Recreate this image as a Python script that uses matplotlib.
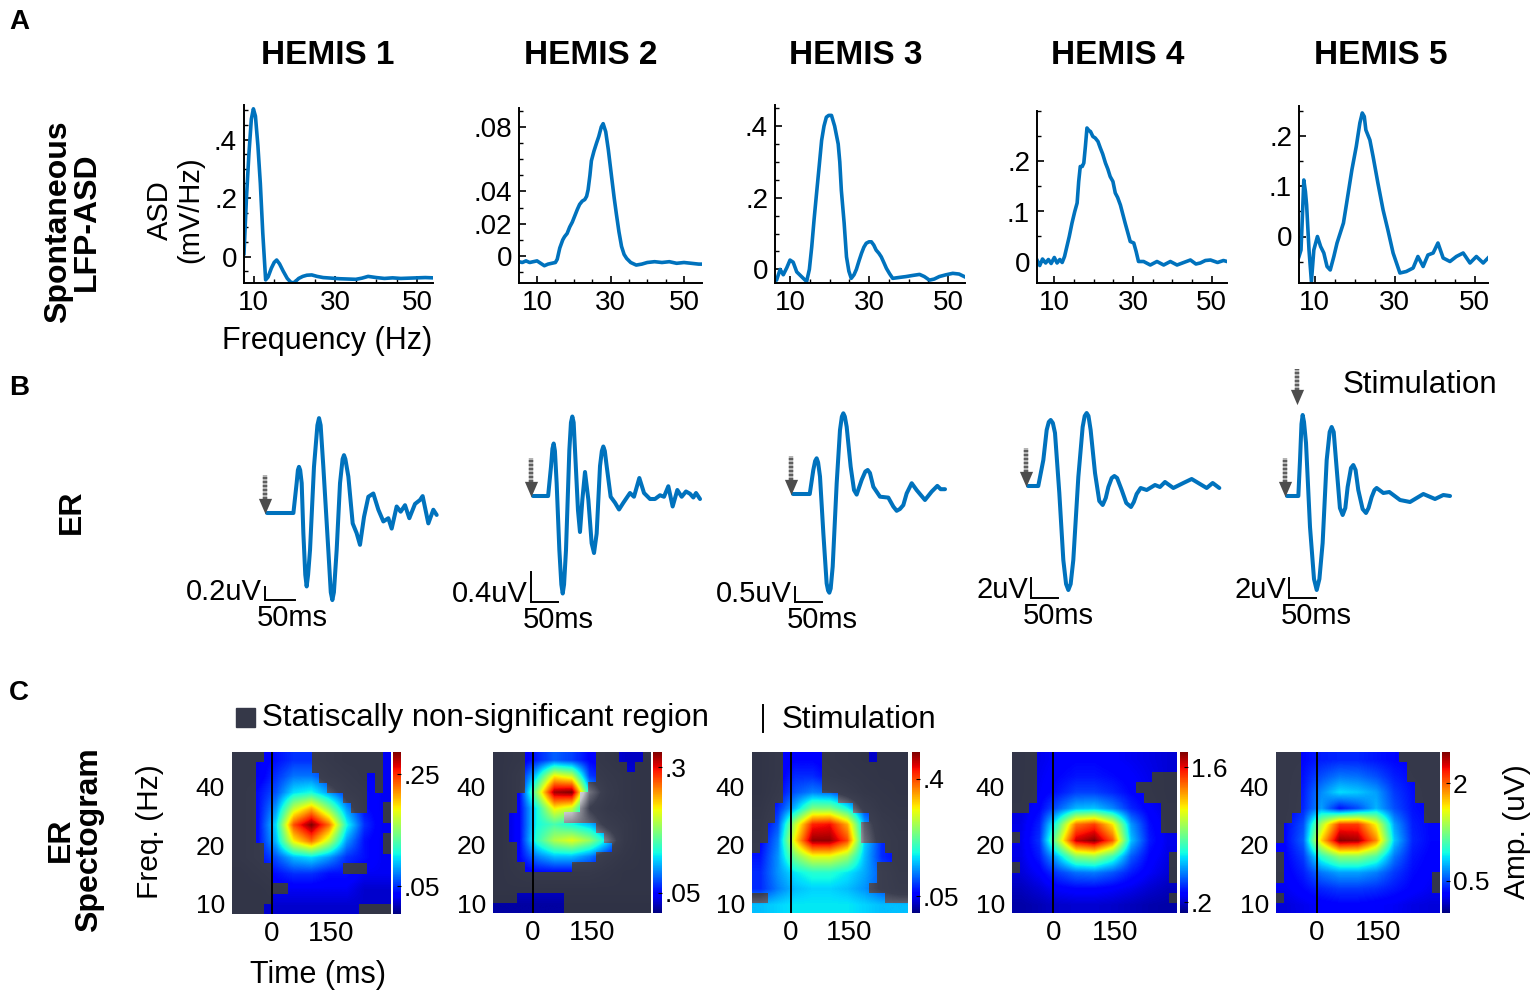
import matplotlib
matplotlib.use('Agg')
import matplotlib.pyplot as plt
from matplotlib.colors import LinearSegmentedColormap, Normalize
from matplotlib.path import Path
from matplotlib.patches import Rectangle
from matplotlib.lines import Line2D
from matplotlib.ticker import MultipleLocator
from matplotlib.cm import ScalarMappable
import numpy as np

plt.rcParams['font.family'] = ['Liberation Sans', 'DejaVu Sans']
NARROW = ['Liberation Sans Narrow', 'Liberation Sans', 'DejaVu Sans']

W, H = 1536, 999
BLUE = '#0072BD'

hemis = ['HEMIS 1', 'HEMIS 2', 'HEMIS 3', 'HEMIS 4', 'HEMIS 5']

# ---------------- A : spontaneous LFP amplitude spectral density ----------------
asd_f1 = [7.6, 8.2, 8.8, 9.4, 9.9, 10.4, 11.0, 11.6, 12.2, 12.9, 13.5, 14.3, 15.0, 15.6, 16.3, 17.2,
          18.2, 19.2, 20.0, 21.0, 22, 23, 24.2, 25.5, 27, 29, 31, 33, 35, 36.5, 38, 40, 42, 44, 46, 48,
          50, 52, 53.9]
asd_v1 = [0.01, 0.2, 0.35, 0.47, 0.505, 0.48, 0.38, 0.25, 0.08, -0.08, -0.07, -0.04, -0.02, -0.012,
          -0.025, -0.05, -0.075, -0.09, -0.088, -0.075, -0.068, -0.064, -0.063, -0.068, -0.072, -0.074,
          -0.076, -0.077, -0.078, -0.074, -0.068, -0.072, -0.075, -0.073, -0.075, -0.074, -0.073,
          -0.072, -0.073]
asd_f2 = [5.1, 6, 7, 8, 9, 10, 11, 12, 13, 14, 15, 15.5, 16.2, 17, 17.5, 18.2, 18.9, 19.6, 20.3, 21,
          21.6, 22.3, 23, 23.5, 23.9, 24.4, 24.8, 25.5, 26.2, 26.8, 27.5, 28, 28.7, 29.4, 30.3, 31,
          31.6, 32.3, 33, 33.7, 34.4, 35.5, 37, 38.5, 40, 42, 44, 46, 48, 50, 52, 54, 54.9]
asd_v2 = [-0.0035, -0.004, -0.003, -0.004, -0.0035, -0.003, -0.0045, -0.006, -0.005, -0.0045,
          -0.004, -0.002, 0.005, 0.010, 0.012, 0.014, 0.018, 0.021, 0.025, 0.029, 0.032, 0.034,
          0.035, 0.037, 0.041, 0.050, 0.059, 0.065, 0.070, 0.074, 0.080, 0.082, 0.077, 0.066, 0.049,
          0.036, 0.026, 0.015, 0.006, 0.001, -0.0015, -0.004, -0.0056, -0.005, -0.004, -0.0035,
          -0.004, -0.0035, -0.0045, -0.004, -0.0045, -0.005, -0.005]
asd_f3 = [6.2, 6.6, 7.5, 8.3, 9.2, 10, 10.8, 11.7, 12.9, 14.2, 14.9, 15.5, 16.1, 16.7, 17.4, 18,
          18.6, 19.2, 19.8, 20.5, 21.3, 22.2, 22.6, 23, 23.7, 24.3, 24.9, 25.5, 26.2, 26.8, 27.5,
          28.1, 28.7, 29.3, 30, 30.6, 31.2, 31.8, 32.5, 33.1, 33.8, 34.4, 35.2, 36, 38, 39.4, 41,
          42.8, 44, 45.3, 46.5, 47.8, 49.5, 51.2, 52.8, 54.1]
asd_v3 = [-0.03, -0.03, 0.0, -0.015, 0.005, 0.026, 0.02, -0.007, -0.02, -0.034, 0.0, 0.063, 0.14,
          0.21, 0.29, 0.36, 0.40, 0.425, 0.43, 0.43, 0.40, 0.35, 0.30, 0.22, 0.13, 0.035, -0.005,
          -0.025, -0.015, 0.0, 0.025, 0.045, 0.062, 0.073, 0.077, 0.077, 0.068, 0.054, 0.045, 0.035,
          0.018, 0.003, -0.012, -0.025, -0.022, -0.02, -0.017, -0.014, -0.02, -0.03, -0.027, -0.02,
          -0.015, -0.011, -0.013, -0.02]
asd_f4 = [5.6, 6.3, 7, 7.8, 8.5, 9.2, 10, 10.7, 11.4, 12, 12.6, 13.2, 13.8, 14.5, 15.2, 15.8, 16.2,
          16.6, 17.1, 17.5, 17.9, 18.3, 18.8, 19.2, 19.8, 20.4, 21.1, 21.7, 22.3, 23, 23.6, 24.2,
          24.9, 25.5, 26.1, 26.8, 27.4, 28, 28.6, 29.3, 30.2, 30.8, 31.4, 32.7, 34.4, 36.1, 37.8,
          39.5, 41.2, 42.9, 44.6, 46, 47.1, 48.4, 49.7, 51.5, 53, 53.9]
asd_v4 = [0.003, -0.008, 0.005, -0.003, 0.004, -0.004, 0.008, -0.003, 0.004, -0.002, 0.01, 0.03,
          0.05, 0.077, 0.10, 0.117, 0.16, 0.19, 0.19, 0.197, 0.23, 0.267, 0.262, 0.26, 0.25, 0.247,
          0.24, 0.227, 0.215, 0.197, 0.185, 0.17, 0.16, 0.137, 0.128, 0.113, 0.095, 0.077, 0.06,
          0.04, 0.037, 0.02, 0.0, 0.0, -0.007, 0.0, -0.007, 0.0, -0.007, -0.002, 0.003, -0.005,
          -0.003, 0.002, 0.003, -0.002, 0.002, 0.0]
asd_f5 = [6.1, 6.6, 7.0, 7.3, 7.7, 8.0, 8.6, 9.2, 9.8, 10.7, 11.5, 12.3, 13.1, 13.9, 14.8, 15.6,
          16.4, 17.2, 18.0, 19.3, 20.4, 21.3, 21.9, 22.4, 22.8, 23.8, 24.6, 25.8, 27.1, 28.3, 29.6,
          31.3, 32.9, 34.6, 35.8, 37.1, 38.3, 39.6, 40.8, 42.1, 43.8, 45.4, 47.1, 48.8, 50.4, 52.1,
          53.3]
asd_v5 = [-0.04, -0.027, 0.05, 0.113, 0.09, 0.063, -0.027, -0.09, -0.027, 0.0, -0.02, -0.033,
          -0.06, -0.067, -0.04, -0.013, 0.007, 0.027, 0.067, 0.133, 0.18, 0.227, 0.247, 0.24, 0.213,
          0.193, 0.16, 0.107, 0.053, 0.013, -0.033, -0.073, -0.07, -0.063, -0.04, -0.06, -0.037,
          -0.033, -0.013, -0.043, -0.05, -0.04, -0.033, -0.053, -0.04, -0.053, -0.043]
asd_freq = [asd_f1, asd_f2, asd_f3, asd_f4, asd_f5]
asd_vals = [asd_v1, asd_v2, asd_v3, asd_v4, asd_v5]
asd_yticks = [[0, 0.2, 0.4], [0, 0.02, 0.04, 0.08], [0, 0.2, 0.4], [0, 0.1, 0.2], [0, 0.1, 0.2]]
asd_ylabels = [['0', '.2', '.4'], ['0', '.02', '.04', '.08'], ['0', '.2', '.4'],
               ['0', '.1', '.2'], ['0', '.1', '.2']]

# ---------------- B : evoked responses (ms, uV) ----------------
er_t1 = [0, 44, 49.4, 51.5, 53.3, 55.3, 57.8, 60.6, 63.8, 66.1, 68.5, 71.7, 78.3, 84, 86.7, 89.4,
         93.9, 102.2, 106.3, 108.9, 111.5, 116.1, 121.7, 126, 128.3, 130.6, 135.6, 142.8, 149.4,
         155, 161.7, 168.9, 177.2, 185.6, 193.9, 202.2, 207.8, 216.1, 222.8, 230, 237.2, 246.7,
         255, 259.4, 268.9, 277.2, 282.8]
er_v1 = [0, 0, 0.46, 0.66, 0.71, 0.66, 0.46, -0.31, -0.95, -1.13, -0.95, -0.57, 0.71, 1.35, 1.46,
         1.35, 0.71, -0.57, -1.22, -1.34, -1.22, -0.57, 0.46, 0.83, 0.89, 0.83, 0.56, -0.16, -0.31,
         -0.49, -0.06, 0.25, 0.3, 0.05, -0.13, -0.08, -0.24, 0.1, 0.02, 0.12, -0.08, 0.14, 0.2,
         0.26, -0.16, 0.05, -0.03]
er_t2 = [0, 28, 33.3, 36, 38.3, 40.6, 43.8, 48.8, 52.5, 55, 57.5, 61.1, 67.3, 70.3, 72.8, 75.3,
         77.8, 83.3, 87, 91.4, 96.3, 102.5, 108.6, 113, 117.9, 124.1, 127.5, 130.2, 133, 136.4,
         143.8, 151.9, 159.3, 167.3, 179.6, 187, 196.9, 205.6, 216.7, 225.9, 235.2, 242.6, 250.6,
         258.6, 267.3, 275.3, 283.3, 290.7, 296.9, 301.9, 309.3]
er_v2 = [0, 0, 0.39, 0.63, 0.70, 0.60, 0.17, -0.72, -1.18, -1.30, -1.18, -0.72, 0.61, 0.98, 1.06,
         0.98, 0.61, -0.19, -0.48, -0.05, 0.32, -0.05, -0.63, -0.76, -0.5, 0.4, 0.6, 0.66, 0.6,
         0.4, -0.01, -0.09, -0.18, -0.09, 0.04, -0.01, 0.24, 0.04, -0.04, -0.04, 0.01, -0.01, 0.13,
         -0.14, 0.08, -0.01, 0.06, 0.03, -0.02, 0.04, -0.04]
er_t3 = [0, 31, 37.6, 41, 43.8, 46.5, 50, 56.2, 62.3, 65, 67.3, 69.8, 73.5, 80.9, 87, 90.5, 93.2,
         96, 99.4, 106.8, 113, 117.9, 127.2, 134, 138.3, 142.5, 148.8, 161.1, 176.5, 185.8, 192,
         198, 204.3, 210.5, 219.8, 229, 244.4, 256.8, 267.3, 273.5, 281.5]
er_v3 = [0, 0, 0.8, 1.1, 1.19, 1.05, 0.58, -1.31, -2.98, -3.22, -3.29, -3.15, -2.42, 0.36, 2.13,
         2.58, 2.69, 2.58, 2.24, 0.91, 0.13, -0.02, 0.47, 0.75, 0.8, 0.7, 0.24, -0.09, -0.12, -0.42,
         -0.56, -0.5, -0.37, 0.02, 0.36, 0.13, -0.2, 0.08, 0.27, 0.16, 0.16]
er_t4 = [0, 19, 28.4, 34.6, 38.5, 42, 46, 50, 58, 65.4, 70.5, 74.7, 79, 83.9, 93.2, 101.2, 105,
         108.6, 112, 116, 124.1, 132, 138.3, 144, 148.8, 155, 159.9, 165, 173.5, 182, 190.7, 196,
         201.2, 208.6, 219.8, 235.2, 244.4, 253.7, 269.1, 287.7, 303.1, 318.5, 330.9, 342, 354.3]
er_v4 = [0, 0, 2.6, 5.6, 6.4, 6.6, 6.3, 5.3, -0.7, -7.4, -9.8, -10.4, -9.8, -7.4, 0.9, 5.9, 7.0,
         7.3, 7.0, 5.6, 1.3, -1.5, -1.9, -1.2, -0.1, 0.8, 1.0, 0.8, -0.4, -1.7, -2.1, -1.6, -0.8,
         -0.2, -0.4, 0.1, -0.1, 0.4, -0.2, 0.3, 0.7, 0.2, -0.2, 0.3, -0.2]
er_t5 = [0, 21, 24.1, 26.8, 29, 31.5, 35.2, 42.6, 50, 55, 60, 66, 73.5, 79, 82.7, 86.5, 90.7, 98,
         103.1, 108, 112.3, 118.5, 122.8, 127, 132, 140, 146.3, 151, 156.8, 162, 166, 171, 178.4,
         189.5, 209.3, 227.8, 252.5, 274.1, 289.5, 301.9]
er_v5 = [0, 0, 3.6, 7.2, 8.1, 7.4, 5.3, -3.1, -8.3, -9.4, -8.3, -4.7, 3.6, 6.4, 6.9, 6.4, 3.6, -1.2,
         -1.9, -1.2, 0.9, 2.8, 3.1, 2.6, 0.6, -1.3, -1.7, -1.2, -0.1, 0.6, 0.8, 0.6, 0.3, 0.4, -0.4,
         -0.6, 0.2, -0.3, 0.1, 0.0]
er_time = [er_t1, er_t2, er_t3, er_t4, er_t5]
er_amp = [er_v1, er_v2, er_v3, er_v4, er_v5]
er_bar_uv = [0.2, 0.4, 0.5, 2, 2]
er_bar_ms = 50

# ---------------- C : ER spectrograms (rows: high -> low freq, cols: -100 -> 300 ms) ----------------
spec1 = [[0.03, 0.03, 0.04, 0.05, 0.05, 0.04, 0.03, 0.03, 0.03],
         [0.03, 0.03, 0.05, 0.07, 0.07, 0.05, 0.04, 0.03, 0.03],
         [0.03, 0.04, 0.06, 0.10, 0.11, 0.08, 0.05, 0.04, 0.03],
         [0.03, 0.04, 0.08, 0.17, 0.21, 0.15, 0.08, 0.04, 0.03],
         [0.03, 0.04, 0.10, 0.24, 0.29, 0.23, 0.11, 0.05, 0.03],
         [0.03, 0.04, 0.09, 0.19, 0.23, 0.17, 0.08, 0.04, 0.03],
         [0.03, 0.04, 0.06, 0.09, 0.10, 0.08, 0.05, 0.04, 0.03],
         [0.02, 0.03, 0.04, 0.05, 0.05, 0.04, 0.04, 0.03, 0.03],
         [0.02, 0.02, 0.03, 0.03, 0.03, 0.03, 0.03, 0.02, 0.02],
         [0.02, 0.02, 0.02, 0.02, 0.02, 0.02, 0.02, 0.02, 0.02]]
spec2 = [[0.03, 0.04, 0.06, 0.08, 0.07, 0.05, 0.04, 0.03, 0.03],
         [0.03, 0.05, 0.12, 0.22, 0.20, 0.07, 0.05, 0.04, 0.03],
         [0.03, 0.05, 0.18, 0.32, 0.33, 0.12, 0.06, 0.04, 0.03],
         [0.03, 0.05, 0.13, 0.22, 0.20, 0.08, 0.05, 0.04, 0.03],
         [0.03, 0.05, 0.13, 0.15, 0.13, 0.11, 0.07, 0.05, 0.03],
         [0.03, 0.05, 0.14, 0.19, 0.21, 0.18, 0.12, 0.05, 0.03],
         [0.03, 0.05, 0.09, 0.11, 0.11, 0.09, 0.06, 0.04, 0.03],
         [0.03, 0.04, 0.05, 0.05, 0.05, 0.05, 0.04, 0.03, 0.03],
         [0.03, 0.03, 0.03, 0.03, 0.03, 0.03, 0.03, 0.03, 0.03],
         [0.02, 0.02, 0.02, 0.02, 0.02, 0.02, 0.02, 0.02, 0.02]]
spec3 = [[0.03, 0.05, 0.06, 0.06, 0.05, 0.04, 0.03, 0.03, 0.03],
         [0.03, 0.05, 0.08, 0.08, 0.06, 0.05, 0.04, 0.03, 0.03],
         [0.03, 0.06, 0.10, 0.12, 0.11, 0.08, 0.05, 0.04, 0.03],
         [0.04, 0.08, 0.15, 0.24, 0.24, 0.18, 0.09, 0.05, 0.04],
         [0.05, 0.10, 0.28, 0.42, 0.43, 0.35, 0.14, 0.07, 0.05],
         [0.06, 0.12, 0.32, 0.47, 0.47, 0.40, 0.16, 0.08, 0.06],
         [0.07, 0.13, 0.24, 0.30, 0.30, 0.26, 0.15, 0.08, 0.06],
         [0.08, 0.13, 0.17, 0.19, 0.19, 0.17, 0.14, 0.10, 0.07],
         [0.08, 0.12, 0.15, 0.16, 0.16, 0.15, 0.13, 0.10, 0.08],
         [0.15, 0.16, 0.17, 0.17, 0.17, 0.17, 0.16, 0.15, 0.15]]
spec4 = [[0.22, 0.25, 0.28, 0.30, 0.30, 0.28, 0.26, 0.24, 0.22],
         [0.22, 0.26, 0.30, 0.33, 0.33, 0.31, 0.28, 0.25, 0.22],
         [0.22, 0.27, 0.33, 0.40, 0.40, 0.36, 0.30, 0.26, 0.22],
         [0.23, 0.30, 0.45, 0.60, 0.62, 0.52, 0.36, 0.28, 0.23],
         [0.24, 0.35, 0.80, 1.40, 1.50, 1.20, 0.55, 0.32, 0.24],
         [0.25, 0.38, 1.00, 1.65, 1.75, 1.45, 0.62, 0.34, 0.25],
         [0.24, 0.34, 0.62, 0.95, 1.00, 0.80, 0.45, 0.30, 0.24],
         [0.22, 0.28, 0.40, 0.48, 0.50, 0.44, 0.34, 0.27, 0.22],
         [0.18, 0.22, 0.28, 0.30, 0.30, 0.28, 0.25, 0.21, 0.18],
         [0.15, 0.17, 0.20, 0.21, 0.21, 0.20, 0.18, 0.16, 0.15]]
spec5 = [[0.30, 0.32, 0.38, 0.40, 0.40, 0.36, 0.32, 0.30, 0.30],
         [0.30, 0.35, 0.50, 0.60, 0.58, 0.50, 0.38, 0.32, 0.30],
         [0.30, 0.38, 0.65, 0.85, 0.80, 0.70, 0.45, 0.34, 0.30],
         [0.30, 0.40, 0.70, 0.35, 0.50, 0.75, 0.50, 0.35, 0.30],
         [0.32, 0.50, 1.40, 2.10, 2.10, 1.60, 0.70, 0.38, 0.32],
         [0.32, 0.55, 1.70, 2.45, 2.40, 1.90, 0.80, 0.40, 0.32],
         [0.30, 0.45, 1.00, 1.30, 1.30, 1.10, 0.60, 0.36, 0.30],
         [0.28, 0.38, 0.60, 0.70, 0.70, 0.62, 0.45, 0.33, 0.28],
         [0.25, 0.32, 0.40, 0.45, 0.45, 0.42, 0.36, 0.30, 0.25],
         [0.20, 0.24, 0.28, 0.30, 0.30, 0.28, 0.26, 0.22, 0.20]]
spec_vals = [spec1, spec2, spec3, spec4, spec5]

# '#' = statistically non-significant cell (top row = highest frequency)
nonsig1 = ["####......#########.", "###.......#########.", "###........######.#.",
           "###.........#####.#.", "###...........###...", "###............##..#",
           "###................#", "###.................", "###................#",
           "####...............#", "####................", "#####.........###...",
           "#####...............", "#######.............", "#####...............",
           "####............####"]
nonsig2 = ["####.........###...#", "####.........####.##", "####.........#######",
           "####........########", "###........#########", "###........#########",
           "##.......###########", "##...........#######", "##............######",
           "###............#####", "###..........#######", "####......##########",
           "####################", "####################", "###......###########",
           ".........###########"]
nonsig3 = ["####.....######.####", "####.....###########", "####.....###########",
           "####.....###########", "####.......#########", "###..........#######",
           "###............#####", "##............######", "##............######",
           "#................###", "..................##", "................####",
           "................####", "...............#####", "##...............###",
           "...................."]
nonsig4 = ["###.................", "###.................", "###..............###",
           "###............#####", "###.............####", "##................##",
           "..................##", "..................##", "#...................",
           "....................", "...................#", "#..................#",
           "...................#", "....................", "...................#",
           "...................."]
nonsig5 = ["###............#####", "###.............####", "###.............####",
           "###..............###", "###..............###", "###...............##",
           "##................##", "#...................", "#...................",
           "....................", "#...................", "#...................",
           "#..................#", "...................#", "#...................",
           "...................."]
spec_masks = [nonsig1, nonsig2, nonsig3, nonsig4, nonsig5]
spec_range = [(0, 0.29), (0.01, 0.33), (0, 0.48), (0.09, 1.76), (0, 2.48)]
cbar_ticks = [[0.05, 0.25], [0.05, 0.3], [0.05, 0.4], [0.2, 1.6], [0.5, 2]]
cbar_labels = [['.05', '.25'], ['.05', '.3'], ['.05', '.4'], ['.2', '1.6'], ['0.5', '2']]
spec_time = (-100, 300)
spec_logf = (3.15, 5.92)   # log2(Hz)
freq_ticks = [10, 20, 40]
time_ticks = [0, 150]

fig = plt.figure(figsize=(W / 100, H / 100), dpi=100)


def box(x0, y0, x1, y1):
    return fig.add_axes([x0 / W, 1 - y1 / H, (x1 - x0) / W, (y1 - y0) / H])


def ftext(x, y, s, **kw):
    fig.text(x / W, 1 - y / H, s, **kw)


# ---- row A ----
asd_boxes = [(244, 105, 433, 283), (519, 108, 702, 283), (775, 105, 965, 283),
             (1037, 111, 1227, 283), (1299, 106, 1488, 283)]
asd_xlim = [(7.6, 53.9), (5.1, 54.9), (6.2, 54.3), (5.6, 53.9), (6.1, 53.3)]
asd_ylim = [(-0.0906, 0.518), (-0.0167, 0.0917), (-0.038, 0.459), (-0.043, 0.301), (-0.093, 0.261)]
asd_minor = [0.05, 0.01, 0.05, 0.05, 0.05]
title_x = [328, 591, 856, 1118, 1381]

for i in range(5):
    ax = box(*asd_boxes[i])
    ax.plot(asd_freq[i], asd_vals[i], color=BLUE, lw=2.6, solid_joinstyle='round')
    ax.set_xlim(asd_xlim[i])
    ax.set_ylim(asd_ylim[i])
    ax.patch.set_alpha(0)
    for s in ['top', 'right']:
        ax.spines[s].set_visible(False)
    for s in ['left', 'bottom']:
        ax.spines[s].set_linewidth(1.4)
    ax.set_xticks([10, 30, 50])
    ax.set_xticklabels(['10', '30', '50'], fontfamily=NARROW, fontsize=20)
    ax.set_yticks(asd_yticks[i])
    ax.set_yticklabels(asd_ylabels[i], fontfamily=NARROW, fontsize=20)
    ax.xaxis.set_minor_locator(MultipleLocator(5))
    ax.yaxis.set_minor_locator(MultipleLocator(asd_minor[i]))
    ax.tick_params(which='major', direction='in', length=5, width=1.2, pad=5)
    ax.tick_params(which='minor', direction='in', length=3, width=1.0)
    ftext(title_x[i], 55, hemis[i], ha='center', va='center', fontsize=24, fontweight='bold')

ftext(19, 22, 'A', ha='center', va='center', fontsize=20, fontweight='bold')
ftext(72, 222, 'Spontaneous\nLFP-ASD', rotation=90, ha='center', va='center',
      fontsize=23, fontweight='bold', linespacing=0.95)
ftext(175, 210, 'ASD\n(mV/Hz)', rotation=90, ha='center', va='center', fontsize=21,
      linespacing=1.1)
ftext(327, 341, 'Frequency (Hz)', ha='center', va='center', fontsize=22)

# ---- row B ----
er_origin = [(267, 513), (533, 496), (793, 494), (1028, 486), (1287, 496)]
er_px_ms = [0.6, 0.54, 0.54, 0.54, 0.54]
er_px_uv = [65, 75, 30, 10, 10]
er_bar_px = [(265, 600), (531, 602), (795, 602), (1031, 598), (1289, 598)]
arrow_head = [(-0.43, 0.5), (0.43, 0.5), (0, -0.5)]


def stim_arrow(ax, T, V, px, tip_y, top_y):
    ax.plot([T(px), T(px)], [V(tip_y - 14), V(top_y)], color='#b4b4b4', lw=3.2,
            solid_capstyle='butt', zorder=3)
    ax.plot([T(px), T(px)], [V(tip_y - 14), V(top_y)], color='#5e5e5e', lw=3.2,
            dashes=(0.45, 0.45), solid_capstyle='butt', zorder=3)
    ax.plot(T(px), V(tip_y - 7.5), marker=arrow_head, ms=11, color='#4d4d4d', mec='none', zorder=3)


for i in range(5):
    ox, oy = er_origin[i]
    pms, puv = er_px_ms[i], er_px_uv[i]
    x0, y0, x1, y1 = ox - 130, 360, ox + 230, 650
    ax = box(x0, y0, x1, y1)
    ax.set_xlim((x0 - ox) / pms, (x1 - ox) / pms)
    ax.set_ylim((oy - y1) / puv, (oy - y0) / puv)
    ax.axis('off')

    def T(px, ox=ox, pms=pms):
        return (px - ox) / pms

    def V(py, oy=oy, puv=puv):
        return (oy - py) / puv

    ax.plot(er_time[i], er_amp[i], color=BLUE, lw=2.9, solid_joinstyle='round',
            solid_capstyle='round')
    stim_arrow(ax, T, V, ox - 2, oy, oy - 38)

    bx, by = er_bar_px[i]
    t0, v0 = T(bx), V(by)
    ax.plot([t0, t0, t0 + er_bar_ms], [v0 + er_bar_uv[i], v0, v0], color='k', lw=1.4,
            solid_joinstyle='miter')
    ax.text(T(bx - 3), v0, '%guV' % er_bar_uv[i], ha='right', va='baseline', fontsize=21)
    ax.text(T(bx - 8), V(by + 26), '%dms' % er_bar_ms, ha='left', va='baseline', fontsize=21)

    if i == 4:
        stim_arrow(ax, T, V, 1297, 404, 369)
        ax.text(T(1343), V(385), 'Stimulation', ha='left', va='center', fontsize=22.5)

ftext(19, 388, 'B', ha='center', va='center', fontsize=20, fontweight='bold')
ftext(72, 512, 'ER', rotation=90, ha='center', va='center', fontsize=23, fontweight='bold')

# ---- row C ----
spec_boxes = [(232, 752, 391, 914), (493, 752, 651, 913), (752, 752, 908, 913),
              (1012, 752, 1177, 913), (1276, 752, 1440, 913)]
cbar_boxes = [(393, 752, 401, 914), (653, 752, 662, 913), (912, 752, 920, 913),
              (1180, 752, 1188, 913), (1442, 752, 1450, 913)]
gray_cmap = LinearSegmentedColormap.from_list(
    'nonsig', [(0, '#2e3144'), (0.22, '#3c3f50'), (0.4, '#8a8b94'), (0.55, '#c6c6ca'), (1, '#e8e8e8')])
extent = (spec_time[0], spec_time[1], spec_logf[0], spec_logf[1])


def mask_path(rows):
    verts, codes = [], []
    rh = (extent[3] - extent[2]) / len(rows)
    for r, row in enumerate(rows):
        cw = (extent[1] - extent[0]) / len(row)
        top = extent[3] - r * rh + 0.03 * rh
        bot = extent[3] - (r + 1) * rh - 0.03 * rh
        c = 0
        while c < len(row):
            if row[c] == '#':
                k = c
                while k < len(row) and row[k] == '#':
                    k += 1
                xa, xb = extent[0] + c * cw, extent[0] + k * cw
                verts += [(xa, bot), (xb, bot), (xb, top), (xa, top), (xa, bot)]
                codes += [Path.MOVETO, Path.LINETO, Path.LINETO, Path.LINETO, Path.CLOSEPOLY]
                c = k
            else:
                c += 1
    return Path(verts, codes)


for i in range(5):
    ax = box(*spec_boxes[i])
    data = np.array(spec_vals[i])
    norm = Normalize(*spec_range[i])
    ax.imshow(data, cmap='jet', norm=norm, extent=extent, aspect='auto', interpolation='bilinear')
    gim = ax.imshow(data, cmap=gray_cmap, norm=norm, extent=extent, aspect='auto',
                    interpolation='bilinear')
    gim.set_clip_path(mask_path(spec_masks[i]), ax.transData)
    ax.axvline(0, color='k', lw=1.4)
    ax.set_xlim(spec_time)
    ax.set_ylim(spec_logf)
    for s in ax.spines.values():
        s.set_visible(False)
    ax.set_xticks(time_ticks)
    ax.set_xticklabels([str(t) for t in time_ticks], fontfamily=NARROW, fontsize=20)
    ax.set_yticks(np.log2(freq_ticks))
    ax.set_yticklabels([str(f) for f in freq_ticks], fontfamily=NARROW, fontsize=19)
    ax.tick_params(length=0, pad=5)

    cax = box(*cbar_boxes[i])
    cb = fig.colorbar(ScalarMappable(norm=norm, cmap='jet'), cax=cax)
    cb.outline.set_visible(False)
    cb.set_ticks(cbar_ticks[i])
    cax.set_yticklabels(cbar_labels[i], fontfamily=NARROW, fontsize=19)
    cax.tick_params(length=3, width=0.8, direction='in', pad=2)

ftext(19, 693, 'C', ha='center', va='center', fontsize=20, fontweight='bold')
ftext(75, 840, 'ER\nSpectogram', rotation=90, ha='center', va='center', fontsize=23,
      fontweight='bold', linespacing=0.95)
ftext(150, 832, 'Freq. (Hz)', rotation=90, ha='center', va='center', fontsize=21.5)
ftext(318, 975, 'Time (ms)', ha='center', va='center', fontsize=22)
ftext(1517, 832, 'Amp. (uV)', rotation=90, ha='center', va='center', fontsize=21.5)

fig.add_artist(Rectangle((236 / W, 1 - 727 / H), 19 / W, 19 / H, transform=fig.transFigure,
                         color='#353848'))
ftext(262, 718, 'Statiscally non-significant region', ha='left', va='center', fontsize=22.5)
fig.add_artist(Line2D([763 / W, 763 / W], [1 - 705 / H, 1 - 732 / H], transform=fig.transFigure,
                      color='k', lw=1.4))
ftext(782, 720, 'Stimulation', ha='left', va='center', fontsize=22.5)

fig.savefig('out.png', dpi=100)
